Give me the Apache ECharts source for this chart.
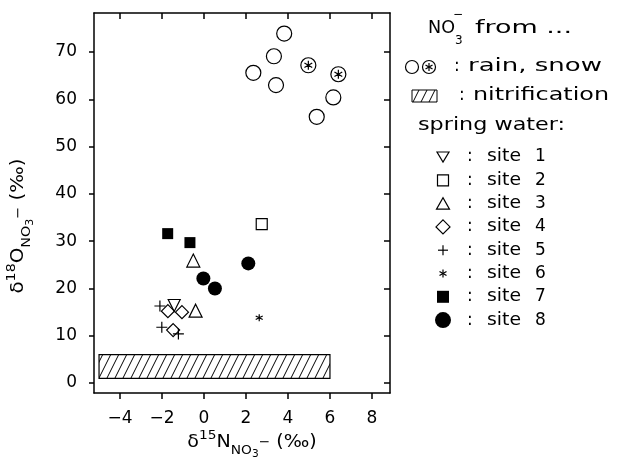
<!DOCTYPE html>
<html>
<head>
<meta charset="utf-8">
<script src="https://cdn.jsdelivr.net/npm/echarts@6/dist/echarts.min.js"></script>
<style>
  html, body { margin: 0; padding: 0; background: #fff; }
  #chart { width: 617px; height: 462px; }
</style>
</head>
<body>
<div id="chart"></div>
<script>
// axis ticks
const xTicks = [-4, -2, 0, 2, 4, 6, 8];
const yTicks = [0, 10, 20, 30, 40, 50, 60, 70];

// NO3- sources: [d15N, d18O]
const rain = [[3.82, 73.9], [3.33, 69.1], [2.35, 65.6], [3.43, 63.0], [6.16, 60.4], [5.37, 56.3]];
const snow = [[4.97, 67.2], [6.40, 65.3]];
// nitrification range: [xmin, ymin, xmax, ymax]
const nitrification = [[-5, 1, 6, 6]];

// spring water sites
const site1 = [[-1.42, 16.4]];
const site2 = [[2.75, 33.6]];
const site3 = [[-0.51, 25.9], [-0.40, 15.3]];
const site4 = [[-1.72, 15.2], [-1.05, 15.0], [-1.47, 11.2]];
const site5 = [[-2.10, 16.3], [-2.01, 11.8], [-1.22, 10.4]];
const site6 = [[2.63, 13.8]];
const site7 = [[-1.73, 31.6], [-0.67, 29.7]];
const site8 = [[2.11, 25.3], [-0.03, 22.1], [0.52, 20.0]];

const FONT = '"DejaVu Sans", sans-serif';
const BLACK = '#000';

// hatch pattern for the nitrification box
const hatchCanvas = document.createElement('canvas');
hatchCanvas.width = 8;
hatchCanvas.height = 16;
const hctx = hatchCanvas.getContext('2d');
hctx.strokeStyle = '#000';
hctx.lineWidth = 1;
for (let k = -1; k <= 1; k++) {
  hctx.beginPath();
  hctx.moveTo(-1 + k * 8, 18);
  hctx.lineTo(9 + k * 8, -2);
  hctx.stroke();
}
const hatch = { image: hatchCanvas, repeat: 'repeat' };

const DOWN = 'path://M0,0L12,0L6,10.4Z';
const PLUS = 'path://M5,0L5,10M0,5L10,5';
const STAR = 'path://M5,0L5,10M0.67,2.5L9.33,7.5M0.67,7.5L9.33,2.5';
const CSTAR = 'path://M10,0A10,10,0,1,1,10,20A10,10,0,1,1,10,0ZM10,4L10,16M4.8,7L15.2,13M4.8,13L15.2,7';

const hollow = { color: 'rgba(0,0,0,0)', borderColor: BLACK, borderWidth: 1.2, opacity: 1 };
const filled = { color: BLACK, borderColor: BLACK, borderWidth: 0, opacity: 1 };
const whiteFill = { color: '#fff', borderColor: BLACK, borderWidth: 1.2, opacity: 1 };

function scatter(name, data, symbol, size, style) {
  return {
    name: name,
    type: 'scatter',
    data: data,
    symbol: symbol,
    symbolSize: size,
    itemStyle: style,
    emphasis: { disabled: true },
    z: 3
  };
}

// lay out text pieces (sub/superscripts) one after another
const mctx = document.createElement('canvas').getContext('2d');
function textRun(parts) {
  let x = 0;
  const kids = [];
  parts.forEach(function (p) {
    const font = p.s + 'px ' + FONT;
    mctx.font = font;
    kids.push({ type: 'text', x: x, y: p.dy,
      style: { text: p.t, font: font, fill: BLACK, align: 'left', verticalAlign: 'middle',
        textAlign: 'left', textVerticalAlign: 'middle' } });
    x += mctx.measureText(p.t).width + (p.gap || 0);
  });
  kids.forEach(function (k) { k.x -= x / 2; });
  return kids;
}

// left-aligned text; optionally stretched to the width it has in the figure
function label(text, x, y, size, width) {
  const font = (size || 17) + 'px ' + FONT;
  let sx = 1;
  if (width) {
    mctx.font = font;
    sx = width / mctx.measureText(text).width;
  }
  return { type: 'text', x: x, y: y, scaleX: sx,
    style: { text: text, font: font, fill: BLACK, align: 'left', verticalAlign: 'middle',
      textAlign: 'left', textVerticalAlign: 'middle' } };
}

function poly(pts, fill) {
  return { type: 'polygon', shape: { points: pts },
    style: { fill: fill || 'none', stroke: BLACK, lineWidth: 1.2 } };
}
function seg(x1, y1, x2, y2) {
  return { type: 'line', shape: { x1: x1, y1: y1, x2: x2, y2: y2 }, style: { stroke: BLACK, lineWidth: 1.2 } };
}

// legend key symbols
function keySymbol(kind, cx, cy) {
  switch (kind) {
    case 'down': return poly([[cx - 6, cy - 5], [cx + 6, cy - 5], [cx, cy + 5]]);
    case 'square': return { type: 'rect', shape: { x: cx - 5.5, y: cy - 5.5, width: 11, height: 11 }, style: { fill: 'none', stroke: BLACK, lineWidth: 1.2 } };
    case 'up': return poly([[cx - 6.5, cy + 5.5], [cx + 6.5, cy + 5.5], [cx, cy - 6]]);
    case 'diamond': return poly([[cx, cy - 7], [cx + 7, cy], [cx, cy + 7], [cx - 7, cy]]);
    case 'plus': return { type: 'group', children: [seg(cx - 5, cy, cx + 5, cy), seg(cx, cy - 5, cx, cy + 5)] };
    case 'star': return { type: 'group', children: [seg(cx, cy - 4, cx, cy + 4), seg(cx - 3.5, cy - 2, cx + 3.5, cy + 2), seg(cx - 3.5, cy + 2, cx + 3.5, cy - 2)] };
    case 'fsquare': return { type: 'rect', shape: { x: cx - 6, y: cy - 6, width: 12, height: 12 }, style: { fill: BLACK } };
    case 'fcircle': return { type: 'circle', shape: { cx: cx, cy: cy, r: 8 }, style: { fill: BLACK } };
  }
}

const siteKeys = ['down', 'square', 'up', 'diamond', 'plus', 'star', 'fsquare', 'fcircle'];
const siteNames = ['1', '2', '3', '4', '5', '6', '7', '8'];

const legendEls = [];
// header
legendEls.push(label('NO', 428, 29, 17, 27));
legendEls.push(label('3', 455, 41, 12));
legendEls.push(label('−', 453, 15, 12));
legendEls.push(label('from ...', 475, 29, 17, 97));
// rain, snow
legendEls.push({ type: 'circle', shape: { cx: 412, cy: 67, r: 6.5 }, style: { fill: 'none', stroke: BLACK, lineWidth: 1.2 } });
legendEls.push({ type: 'circle', shape: { cx: 429, cy: 67, r: 6.5 }, style: { fill: 'none', stroke: BLACK, lineWidth: 1.2 } });
legendEls.push(seg(429, 63, 429, 71), seg(425.5, 65, 432.5, 69), seg(425.5, 69, 432.5, 65));
legendEls.push(label(':', 454, 67), label('rain, snow', 468, 67, 17, 134));
// nitrification
legendEls.push({ type: 'rect', shape: { x: 412, y: 90, width: 25, height: 12 }, style: { fill: hatch, stroke: BLACK, lineWidth: 1 } });
legendEls.push(label(':', 459, 96), label('nitrification', 473, 96, 17, 136));
// spring water
legendEls.push(label('spring water:', 418, 126, 17, 147));
siteKeys.forEach(function (k, i) {
  const cy = 157 + i * 23.3;
  legendEls.push(keySymbol(k, 443, cy));
  legendEls.push(label(':', 467, cy), label('site', 487, cy, 17, 34), label(siteNames[i], 535, cy));
});

const xTitle = { type: 'group', x: 252, y: 442, scaleX: 1.06, children: textRun([
  { t: 'δ', s: 18, dy: 0 }, { t: '15', s: 13, dy: -6 }, { t: 'N', s: 18, dy: 0 },
  { t: 'NO', s: 13, dy: 9 }, { t: '3', s: 10, dy: 12 }, { t: '−', s: 13, dy: 1 },
  { t: ' (‰)', s: 18, dy: 0 }
]) };
const yTitle = { type: 'group', x: 18, y: 226, rotation: Math.PI / 2, scaleX: 1.1, children: textRun([
  { t: 'δ', s: 18, dy: 0 }, { t: '18', s: 13, dy: -6 }, { t: 'O', s: 18, dy: 0 },
  { t: 'NO', s: 13, dy: 9 }, { t: '3', s: 10, dy: 12 }, { t: '−', s: 13, dy: 1 },
  { t: ' (‰)', s: 18, dy: 0 }
]) };

const axisCommon = {
  type: 'value',
  axisLine: { show: true, onZero: false, lineStyle: { color: BLACK, width: 1.5 } },
  splitLine: { show: false }
};
const xMin = -5.24, xMax = 8.86, yMin = -2.1, yMax = 78.25;

const chart = echarts.init(document.getElementById('chart'));
const option = {
  animation: false,
  backgroundColor: '#fff',
  grid: { left: 94, top: 13, width: 296, height: 380 },
  xAxis: [
    Object.assign({}, axisCommon, {
      position: 'bottom', min: xMin, max: xMax,
      axisTick: { show: true, inside: false, length: 6, customValues: xTicks, lineStyle: { color: BLACK, width: 1.5 } },
      axisLabel: { customValues: xTicks, color: BLACK, fontSize: 17, fontFamily: FONT, margin: 17,
        formatter: function (v) { return v < 0 ? '−' + (-v) : String(v); } }
    }),
    Object.assign({}, axisCommon, {
      position: 'top', min: xMin, max: xMax,
      axisTick: { show: true, inside: true, length: 6, customValues: xTicks, lineStyle: { color: BLACK, width: 1.5 } },
      axisLabel: { show: false }
    })
  ],
  yAxis: [
    Object.assign({}, axisCommon, {
      position: 'left', min: yMin, max: yMax,
      axisTick: { show: true, inside: false, length: 5, customValues: yTicks, lineStyle: { color: BLACK, width: 1.5 } },
      axisLabel: { customValues: yTicks, color: BLACK, fontSize: 17, fontFamily: FONT, margin: 17 }
    }),
    Object.assign({}, axisCommon, {
      position: 'right', min: yMin, max: yMax,
      axisTick: { show: true, inside: true, length: 6, customValues: yTicks, lineStyle: { color: BLACK, width: 1.5 } },
      axisLabel: { show: false }
    })
  ],
  graphic: { elements: legendEls.concat([xTitle, yTitle]) },
  series: [
    {
      name: 'nitrification',
      type: 'custom',
      data: nitrification,
      encode: { x: [0, 2], y: [1, 3] },
      renderItem: function (params, api) {
        const a = api.coord([api.value(0), api.value(1)]);
        const b = api.coord([api.value(2), api.value(3)]);
        return {
          type: 'rect',
          shape: { x: a[0], y: b[1], width: b[0] - a[0], height: a[1] - b[1] },
          style: { fill: hatch, stroke: BLACK, lineWidth: 1.2 }
        };
      },
      z: 2
    },
    scatter('rain', rain, 'circle', 15, whiteFill),
    scatter('snow', snow, CSTAR, 15, whiteFill),
    scatter('site 1', site1, DOWN, 12, hollow),
    scatter('site 2', site2, 'rect', 11, hollow),
    scatter('site 3', site3, 'triangle', 13, hollow),
    scatter('site 4', site4, 'diamond', 13, hollow),
    scatter('site 5', site5, PLUS, 11, hollow),
    scatter('site 6', site6, STAR, 7, hollow),
    scatter('site 7', site7, 'rect', 11, filled),
    scatter('site 8', site8, 'circle', 14, filled)
  ]
};
chart.setOption(option);
</script>
</body>
</html>
